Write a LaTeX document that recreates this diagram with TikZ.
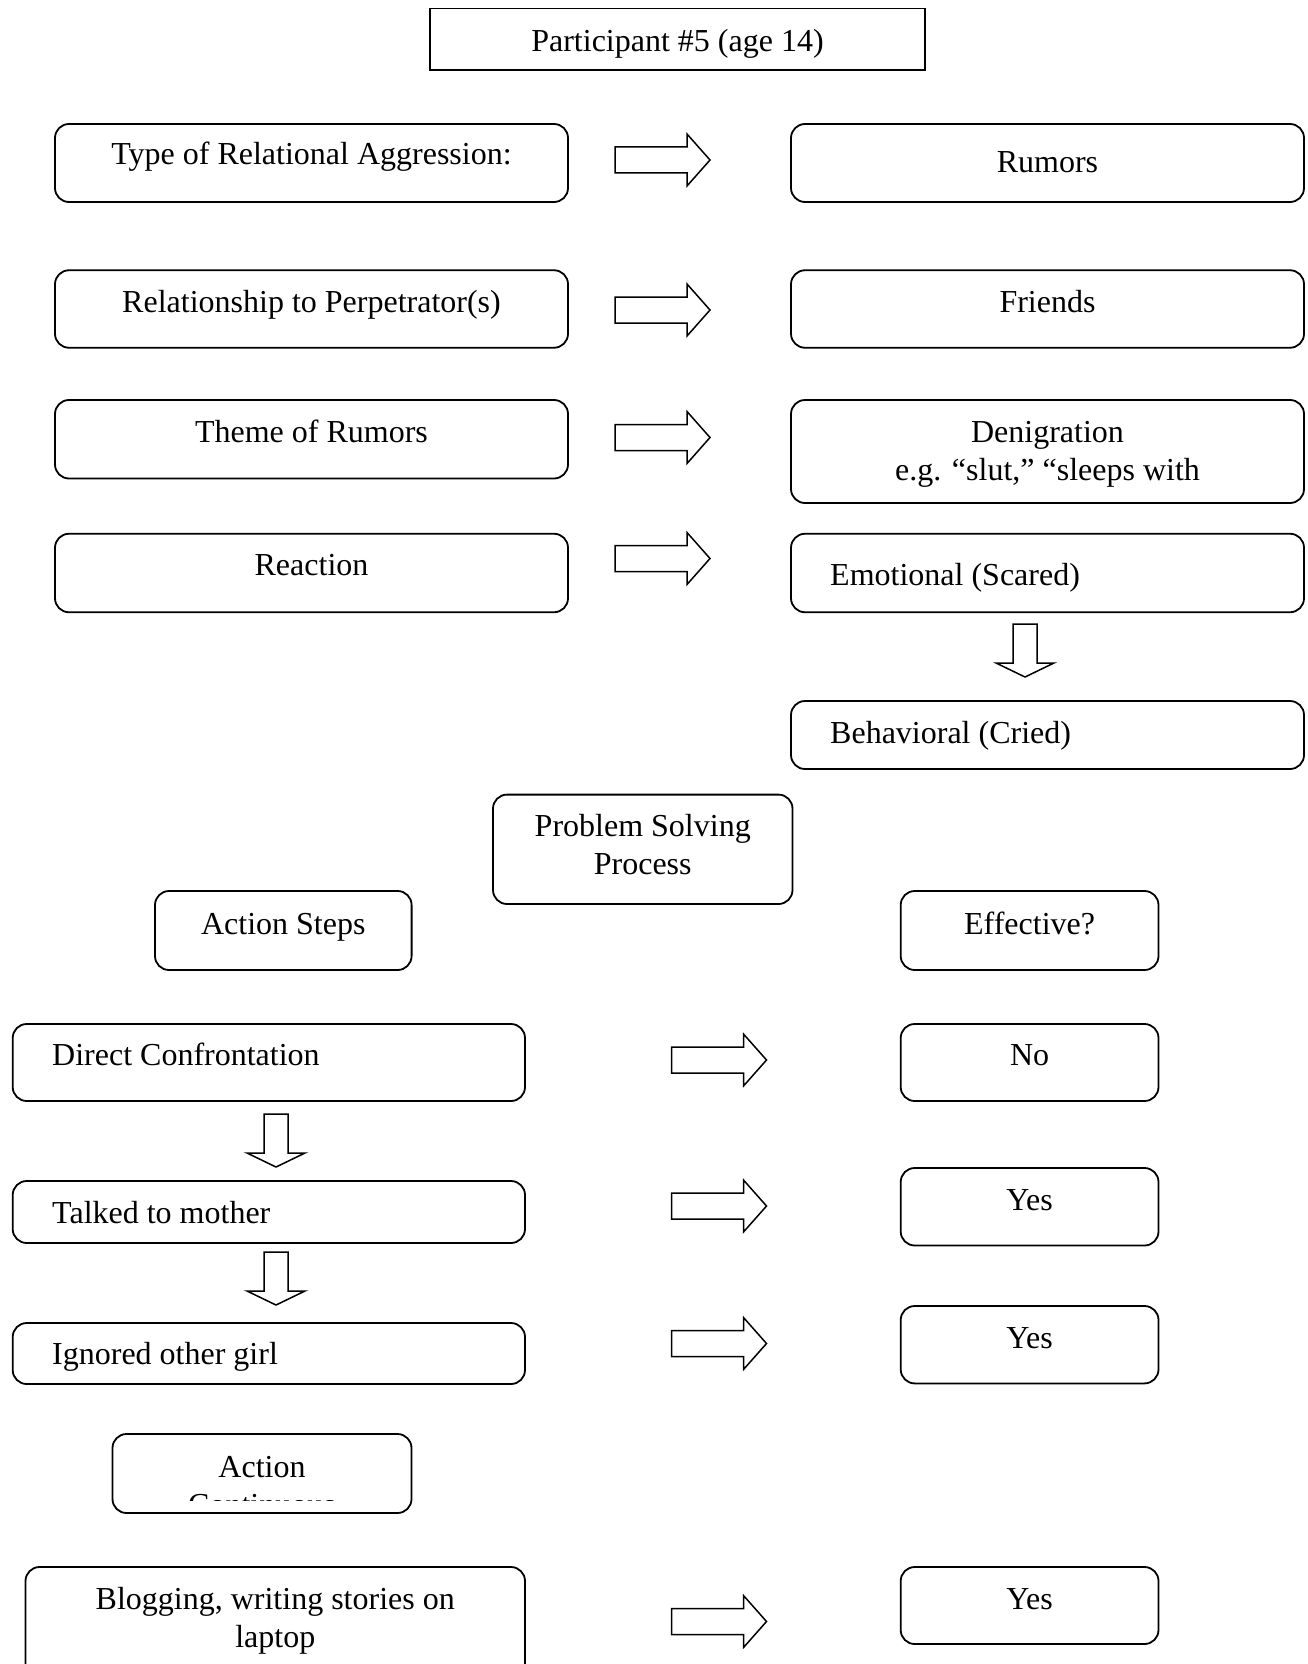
\documentclass[tikz,border=0pt]{standalone}
\usepackage{fontspec}
\setmainfont{Liberation Serif}
\begin{document}
\begin{tikzpicture}[x=1pt,y=-1pt,
 box/.style={draw, line width=1.8pt, rounded corners=14pt, inner sep=0pt},
 sqbox/.style={draw, line width=1.8pt, inner sep=0pt},
 txt/.style={inner sep=0pt, anchor=base, font=\fontsize{32}{38}\selectfont, align=center},
 ltxt/.style={txt, anchor=base west},
 rarrow/.pic={\draw[line width=1.5pt, line join=miter] (0,-13) -- (72,-13) -- (72,-26) -- (95,0) -- (72,26) -- (72,13) -- (0,13) -- cycle;},
 darrow/.pic={\draw[line width=1.5pt, line join=miter] (-12,0) -- (12,0) -- (12,39) -- (29,39) -- (0,53) -- (-29,39) -- (-12,39) -- cycle;}
]
\fill[white] (0,0) rectangle (1307,1664);
\useasboundingbox (0,0) rectangle (1307,1664);

% title
\node[sqbox, minimum width=495pt, minimum height=61.5pt] (title) at (677.5,39.25) {};
\node[txt] (ttitle) at (677.5,52) {Participant \#5 (age 14)};

% left column boxes
\node[box, minimum width=513pt, minimum height=78pt] (L1) at (311.5,163) {};
\node[box, minimum width=513pt, minimum height=77.5pt] (L2) at (311.5,309) {};
\node[box, minimum width=513pt, minimum height=78.5pt] (L3) at (311.5,439.25) {};
\node[box, minimum width=513pt, minimum height=78.5pt] (L4) at (311.5,573) {};
\node[txt] (tL1) at (311.5,165) {Type of Relational Aggression:};
\node[txt] (tL2) at (311.5,312) {Relationship to Perpetrator(s)};
\node[txt] (tL3) at (311.5,442) {Theme of Rumors};
\node[txt] (tL4) at (311.5,575) {Reaction};

% right column boxes
\node[box, minimum width=513pt, minimum height=78pt] (R1) at (1047.5,163) {};
\node[box, minimum width=513pt, minimum height=77.5pt] (R2) at (1047.5,309) {};
\node[box, minimum width=513pt, minimum height=103pt] (R3) at (1047.5,451.5) {};
\node[box, minimum width=513pt, minimum height=78.5pt] (R4) at (1047.5,573) {};
\node[box, minimum width=513pt, minimum height=68pt] (R5) at (1047.5,735) {};
\node[txt] (tR1) at (1047.5,173) {Rumors};
\node[txt] (tR2) at (1047.5,312) {Friends};
\node[txt] (tR3) at (1047.5,480) {Denigration\\e.g. “slut,” “sleeps with};
\node[ltxt] (tR4) at (830,585) {Emotional (Scared)};
\node[ltxt] (tR5) at (830,743) {Behavioral (Cried)};

% upper arrows
\pic (a1) at (615,160) {rarrow};
\pic (a2) at (615,310) {rarrow};
\pic (a3) at (615,437.5) {rarrow};
\pic (a4) at (615,558.5) {rarrow};
\pic (d1) at (1025,624) {darrow};

% problem solving
\node[box, minimum width=299.5pt, minimum height=109.4pt] (psp) at (642.75,849.3) {};
\node[txt] (tpsp) at (642.75,874) {Problem Solving\\Process};
\node[box, minimum width=256.6pt, minimum height=79pt] (as) at (283.3,930.5) {};
\node[txt] (tas) at (283.3,934) {Action Steps};
\node[box, minimum width=257.8pt, minimum height=79pt] (eff) at (1029.6,930.5) {};
\node[txt] (teff) at (1029.6,934) {Effective?};

% action steps
\node[box, minimum width=512.3pt, minimum height=77pt] (s1) at (268.85,1062.5) {};
\node[box, minimum width=512.3pt, minimum height=62pt] (s2) at (268.85,1212) {};
\node[box, minimum width=512.3pt, minimum height=61pt] (s3) at (268.85,1353.5) {};
\node[ltxt] (ts1) at (52,1065) {Direct Confrontation};
\node[ltxt] (ts2) at (52,1223) {Talked to mother};
\node[ltxt] (ts3) at (52,1364) {Ignored other girl};

\node[box, minimum width=257.8pt, minimum height=77pt] (e1) at (1029.6,1062.5) {};
\node[box, minimum width=257.8pt, minimum height=77.5pt] (e2) at (1029.6,1206.75) {};
\node[box, minimum width=257.8pt, minimum height=77.4pt] (e3) at (1029.6,1344.7) {};
\node[txt] (te1) at (1029.6,1065) {No};
\node[txt] (te2) at (1029.6,1210) {Yes};
\node[txt] (te3) at (1029.6,1348) {Yes};

\pic (b1) at (671.5,1060) {rarrow};
\pic (b2) at (671.5,1206) {rarrow};
\pic (b3) at (671.5,1343.5) {rarrow};
\pic (d2) at (276,1114) {darrow};
\pic (d3) at (276,1252) {darrow};

% action continuous
\node[box, minimum width=299pt, minimum height=79pt] (ac) at (262,1473.5) {};
\begin{scope}
\clip (100,1420) rectangle (420,1500);
\node[txt] (tac) at (262,1515) {Action\\Continuous};
\end{scope}

\node[box, minimum width=499.5pt, minimum height=123pt] (blog) at (275.25,1628.5) {};
\node[txt] (tblog) at (275.25,1647) {Blogging, writing stories on\\laptop};
\node[box, minimum width=257.8pt, minimum height=77pt] (e4) at (1029.6,1605.5) {};
\node[txt] (te4) at (1029.6,1609) {Yes};
\pic (b4) at (671.5,1621.5) {rarrow};
\end{tikzpicture}
\end{document}
